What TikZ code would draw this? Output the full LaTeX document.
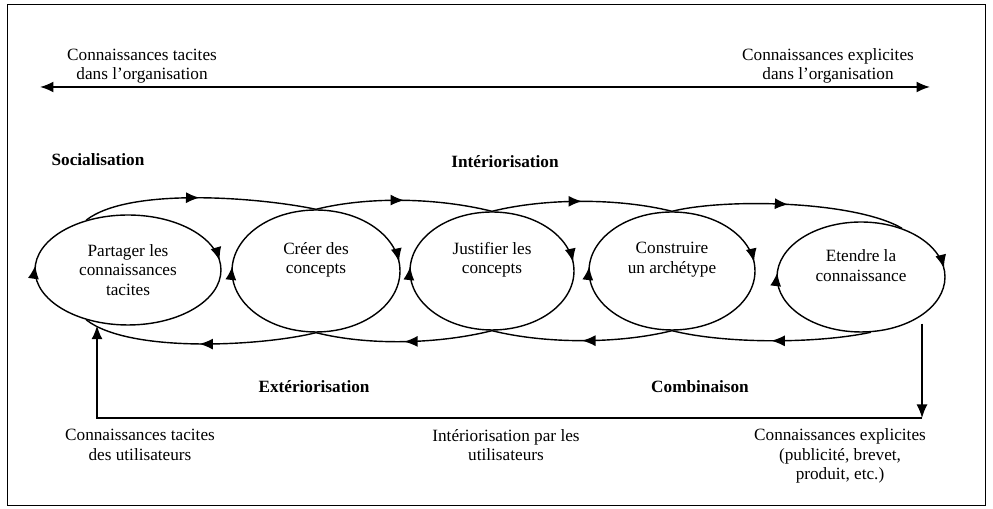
\documentclass[tikz,border=0pt]{standalone}
\usepackage{fontspec}
\setmainfont{Liberation Serif}
\usetikzlibrary{positioning}
\usetikzlibrary{decorations.markings}
\usetikzlibrary{arrows.meta}
\usetikzlibrary{shapes.geometric}

\begin{document}
\begin{tikzpicture}[x=0.02cm, y=0.02cm,
  font=\fontsize{9.8}{11}\selectfont,
  >={Latex[length=2.7mm,width=2.2mm]},
  phase/.style={ellipse, draw, line width=0.8pt, inner sep=0pt, align=center,
    postaction={decorate},
    decoration={markings,
      mark=at position 0.02 with {\arrowreversed{>}},
      mark=at position 0.49 with {\arrowreversed{>}}}},
  lift/.style={text depth=#1},
  bump/.style={line width=0.8pt, postaction={decorate},
    decoration={markings, mark=at position 0.5 with {\arrow{>}}}},
  flow/.style={line width=0.8pt, ->},
  mode/.style={font=\fontsize{9.8}{11}\selectfont\bfseries},
  txt/.style={align=center}]

\useasboundingbox (0,0) rectangle (993,509);
\draw[line width=0.5pt] (7,4) rectangle (985,505);

% top axis
{
\coordinate (tl) at (40,422);
\coordinate (tr) at (930,422);
\draw[line width=1pt, <->] (tl) -- (tr);

\node[txt] (tacorg) at (142,443) {Connaissances tacites\\dans l’organisation};
\node[txt] (exporg) at (828,443) {Connaissances explicites\\dans l’organisation};
}

% phases
{
\node[phase, minimum width=3.72cm, minimum height=2.2cm] (e1) at (128,239)
  {Partager les\\connaissances\\tacites};
\node[phase, lift=15pt, minimum width=3.36cm, minimum height=2.44cm] (e2) at (316,238)
  {Créer des\\concepts};
\node[phase, lift=15pt, minimum width=3.28cm, minimum height=2.36cm] (e3) at (492,238)
  {Justifier les\\concepts};
\node[phase, lift=15pt, minimum width=3.32cm, minimum height=2.36cm] (e4) at (672,238)
  {Construire\\un archétype};
\node[phase, lift=13pt, minimum width=3.36cm, minimum height=2.2cm] (e5) at (861,232)
  {Etendre la\\connaissance};
}

% spiral
{
\draw[bump] (e1.130) .. controls +(38:55) and +(168:55) .. (e2.north);
\draw[bump] (e2.north) .. controls +(14:55) and +(166:55) .. (e3.north);
\draw[bump] (e3.north) .. controls +(14:55) and +(166:55) .. (e4.north);
\draw[bump] (e4.north) .. controls +(14:55) and +(150:55) .. (e5.50);

\draw[bump] (e2.south) .. controls +(194:55) and +(-38:55) .. (e1.230);
\draw[bump] (e3.south) .. controls +(194:55) and +(-14:55) .. (e2.south);
\draw[bump] (e4.south) .. controls +(194:55) and +(-14:55) .. (e3.south);
\draw[bump] (e5.280) .. controls +(192:55) and +(-14:55) .. (e4.south);
}

% modes
{
\node[mode] (soc) at (98,349) {Socialisation};
\node[mode] (inte) at (505,347) {Intériorisation};
\node[mode] (exte) at (314,122) {Extériorisation};
\node[mode] (comb) at (700,122) {Combinaison};
}

% users
{
\coordinate (cr) at (922,91);
\coordinate (cl) at (97,91);
\draw[flow] (e5.315 -| cr) -- (cr);
\draw[flow] (cr) -- (cl) -- (cl |- e1.south);

\node[txt] (tacusr) at (140,64) {Connaissances tacites\\des utilisateurs};
\node[txt] (intusr) at (506,64) {Intériorisation par les\\utilisateurs};
\node[txt] (expusr) at (840,53) {Connaissances explicites\\(publicité, brevet,\\produit, etc.)};
}

\end{tikzpicture}
\end{document}
